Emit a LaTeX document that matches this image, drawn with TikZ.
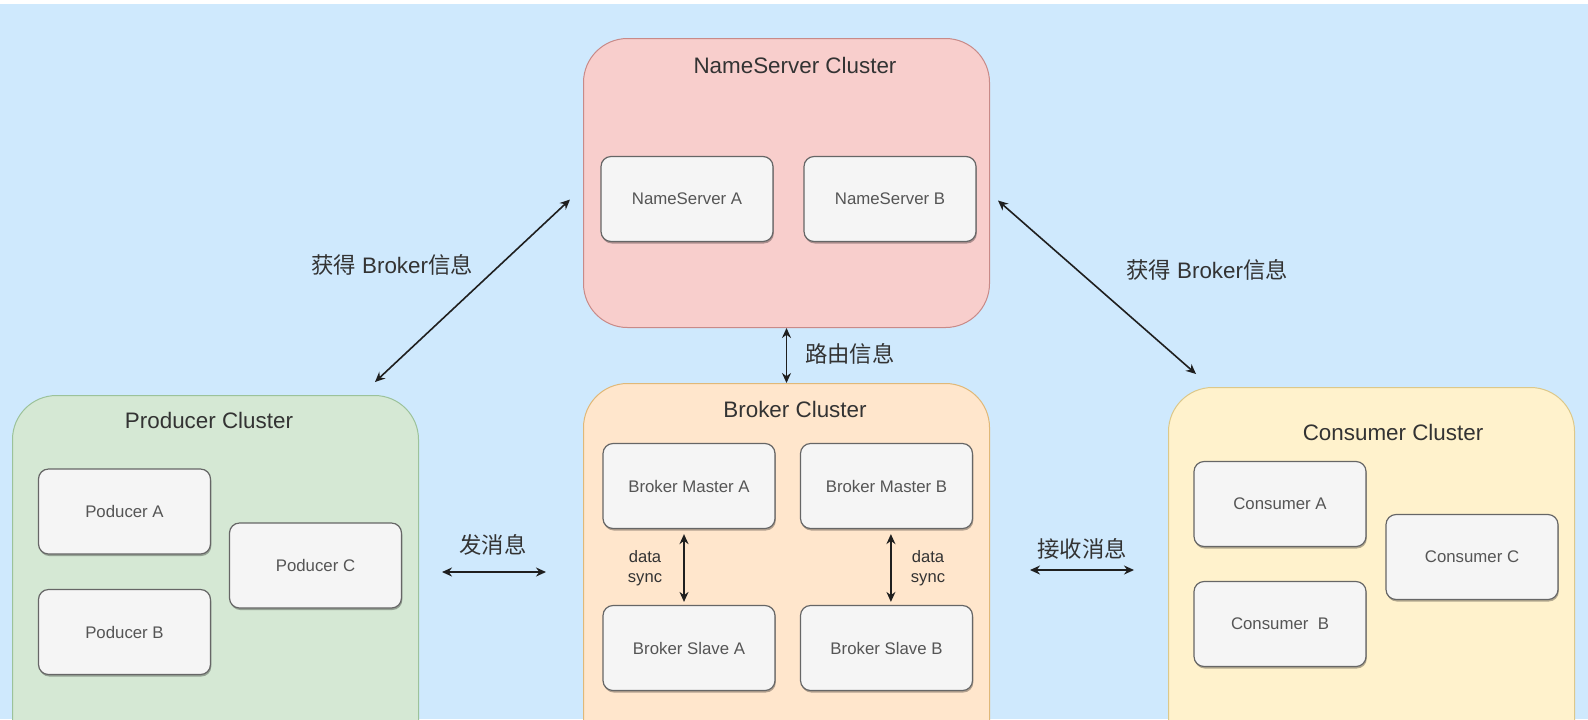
\documentclass[tikz,border=0pt]{standalone}
\usepackage{fontspec}
\setmainfont{Liberation Sans}
\newfontfamily\cjk{Noto Sans CJK SC}
\usetikzlibrary{arrows.meta,shadows}

\definecolor{bgblue}{HTML}{CFE9FD}
\definecolor{nsfill}{HTML}{F8CECC}
\definecolor{nsline}{HTML}{C88A88}
\definecolor{prodfill}{HTML}{D5E8D4}
\definecolor{prodline}{HTML}{9CC29A}
\definecolor{brkfill}{HTML}{FFE6CC}
\definecolor{brkline}{HTML}{E0B878}
\definecolor{consfill}{HTML}{FFF2CC}
\definecolor{consline}{HTML}{DCC88A}
\definecolor{memberfill}{HTML}{F5F5F5}
\definecolor{memberline}{HTML}{666666}
\definecolor{membertext}{HTML}{555555}
\definecolor{titletext}{HTML}{333333}
\definecolor{arrowcol}{HTML}{1F1F1F}

\tikzset{
  cluster/.style={draw,rounded corners=22pt,line width=0.5pt,anchor=north west,minimum width=203pt},
  member/.style={draw=memberline,fill=memberfill,rounded corners=5pt,line width=0.6pt,
    minimum width=86pt,minimum height=42.5pt,text=membertext,font=\fontsize{8.4}{10}\selectfont,
    drop shadow={shadow xshift=0.4pt,shadow yshift=-1pt,opacity=0.3,fill=black}},
  ctitle/.style={text=titletext,font=\fontsize{11.2}{13}\selectfont},
  note/.style={text=titletext,font=\fontsize{11.2}{13}\selectfont},
  syncnote/.style={text=titletext,align=center,font=\fontsize{8.3}{10}\selectfont},
  biarrow/.style={{Stealth[length=5pt,width=4.5pt]}-{Stealth[length=5pt,width=4.5pt]},line width=0.8pt,draw=arrowcol},
}

\begin{document}
\begin{tikzpicture}[x=0.5pt,y=-0.5pt]
\useasboundingbox (0,0) rectangle (1588,719);
\begin{scope}
\clip (0,0) rectangle (1588,719);
\fill[white] (0,0) rectangle (1588,719);
\fill[bgblue] (0,4) rectangle (1588,719);

% clusters
\node[cluster,fill=nsfill,draw=nsline,minimum height=144.5pt] (ns) at (583,38) {};
\node[cluster,fill=prodfill,draw=prodline,minimum height=185pt] (prod) at (12,395) {};
\node[cluster,fill=brkfill,draw=brkline,minimum height=191pt] (brk) at (583,383) {};
\node[cluster,fill=consfill,draw=consline,minimum height=189pt] (cons) at (1168,387) {};

\node[ctitle] (nst) at (795,65) {NameServer Cluster};
\node[ctitle] (prodt) at (209,420) {Producer Cluster};
\node[ctitle] (brkt) at (795,409) {Broker Cluster};
\node[ctitle] (const) at (1393,432) {Consumer Cluster};

% members
\node[member] (nsa) at (687,199) {NameServer A};
\node[member] (nsb) at (890,199) {NameServer B};

\node[member] (pa) at (124.5,511.5) {Poducer A};
\node[member] (pb) at (124.5,632) {Poducer B};
\node[member] (pc) at (315.5,565.5) {Poducer C};

\node[member] (ma) at (689,486) {Broker Master A};
\node[member] (mb) at (886.5,486) {Broker Master B};
\node[member] (sa) at (689,648) {Broker Slave A};
\node[member] (sb) at (886.5,648) {Broker Slave B};

\node[member] (ca) at (1280,504) {Consumer A};
\node[member] (cb) at (1280,624) {Consumer\ \ B};
\node[member] (cc) at (1472,557) {Consumer C};

% master / slave sync
\draw[biarrow,shorten <=2.5pt,shorten >=1.5pt] ([xshift=-2.5pt]ma.south) -- ([xshift=-2.5pt]sa.north);
\draw[biarrow,shorten <=2.5pt,shorten >=1.5pt] ([xshift=2.2pt]mb.south) -- ([xshift=2.2pt]sb.north);
\node[syncnote] (synca) at (645,568) {data\\sync};
\node[syncnote] (syncb) at (928,568) {data\\sync};

% routes between clusters
\draw[biarrow] (ns.south) -- (brk.north);
\node[note,anchor=west] (route) at (798,354) {\cjk 路由信息};

\coordinate (getl1) at ([xshift=-6.5pt,yshift=-8.25pt]ns.west);
\coordinate (getl2) at ([xshift=79.75pt,yshift=6.5pt]prod.north);
\draw[biarrow] (getl1) -- (getl2);
\node[note] (getlt) at (392,265) {{\cjk 获得} Broker{\cjk 信息}};

\coordinate (getr1) at ([xshift=4pt,yshift=-8.75pt]ns.east);
\coordinate (getr2) at ([xshift=-87.75pt,yshift=6.5pt]cons.north);
\draw[biarrow] (getr1) -- (getr2);
\node[note] (getrt) at (1207,270) {{\cjk 获得} Broker{\cjk 信息}};

\coordinate (sendl) at (442,572);
\coordinate (sendr) at (546,572);
\draw[biarrow] (sendl) -- (sendr);
\node[note] (sendt) at (493,545) {\cjk 发消息};

\coordinate (recvl) at (1030,570);
\coordinate (recvr) at (1134,570);
\draw[biarrow] (recvl) -- (recvr);
\node[note] (recvt) at (1082,549) {\cjk 接收消息};
\end{scope}
\end{tikzpicture}
\end{document}
